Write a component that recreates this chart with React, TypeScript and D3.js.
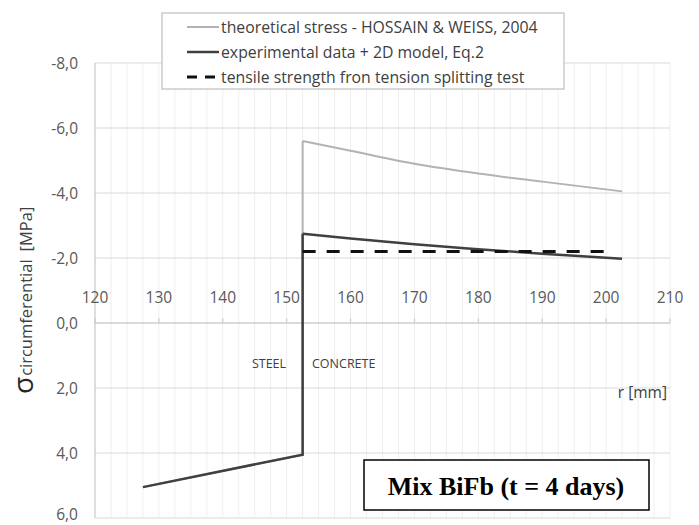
import { useEffect, useRef } from "react";
import * as d3 from "d3";

// radius [mm] and circumferential stress [MPa]
const rTheo = [127.5, 152.5, 152.5, 160, 170, 180, 190, 202.5];
const sTheo = [5.05, 4.05, -5.6, -5.3, -4.9, -4.6, -4.35, -4.05];
const rExp = [127.5, 152.5, 152.5, 160, 170, 180, 190, 202.5];
const sExp = [5.05, 4.05, -2.75, -2.6, -2.42, -2.27, -2.13, -1.98];
const rTen = [152.5, 200.5];
const sTen = [-2.2, -2.2];

const xTicks = [120, 130, 140, 150, 160, 170, 180, 190, 200, 210];
const yTicks = [-8, -6, -4, -2, 0, 2, 4, 6];

const legendItems = [
  { label: "theoretical stress - HOSSAIN & WEISS, 2004", color: "#b3b3b3", width: 2, dash: "" },
  { label: "experimental data + 2D model, Eq.2", color: "#404040", width: 2.5, dash: "" },
  { label: "tensile strength fron tension splitting test", color: "#111", width: 3, dash: "13,11" },
];

const font = "'Open Sans', 'Liberation Sans', sans-serif";

export default function App() {
  const svgRef = useRef<SVGSVGElement>(null);

  useEffect(() => {
    const width = 699;
    const height = 525;
    const svg = d3.select(svgRef.current).attr("width", width).attr("height", height);
    svg.selectAll("*").remove();

    const x = d3.scaleLinear().domain([120, 210]).range([95, 670]);
    const y = d3.scaleLinear().domain([-8, 6]).range([63, 518]);

    svg.append("rect").attr("width", width).attr("height", height).attr("fill", "#fff");

    // minor vertical grid
    svg
      .append("g")
      .selectAll("line")
      .data(d3.range(122.5, 210.1, 2.5))
      .enter()
      .append("line")
      .attr("x1", (d) => x(d))
      .attr("x2", (d) => x(d))
      .attr("y1", y(-8))
      .attr("y2", y(6))
      .attr("stroke", "#efefef")
      .attr("stroke-width", 1);

    // horizontal grid
    svg
      .append("g")
      .selectAll("line")
      .data(yTicks)
      .enter()
      .append("line")
      .attr("x1", x(120))
      .attr("x2", x(210))
      .attr("y1", (d) => y(d))
      .attr("y2", (d) => y(d))
      .attr("stroke", "#d9d9d9")
      .attr("stroke-width", 1.2);

    // vertical axis
    svg
      .append("line")
      .attr("x1", x(120))
      .attr("x2", x(120))
      .attr("y1", y(-8))
      .attr("y2", y(6))
      .attr("stroke", "#c8c8c8")
      .attr("stroke-width", 1.2);

    // horizontal axis at 0 with ticks
    svg
      .append("line")
      .attr("x1", x(120))
      .attr("x2", x(210))
      .attr("y1", y(0))
      .attr("y2", y(0))
      .attr("stroke", "#c8c8c8")
      .attr("stroke-width", 1.2);
    svg
      .append("g")
      .selectAll("line")
      .data(xTicks)
      .enter()
      .append("line")
      .attr("x1", (d) => x(d))
      .attr("x2", (d) => x(d))
      .attr("y1", y(0))
      .attr("y2", y(0) - 5)
      .attr("stroke", "#c8c8c8");

    // tick labels
    svg
      .append("g")
      .selectAll("text")
      .data(xTicks)
      .enter()
      .append("text")
      .attr("x", (d) => x(d))
      .attr("y", y(0) - 20)
      .attr("text-anchor", "middle")
      .attr("font-family", font)
      .attr("font-size", 15.5)
      .attr("fill", "#595959")
      .text((d) => d);

    svg
      .append("g")
      .selectAll("text")
      .data(yTicks)
      .enter()
      .append("text")
      .attr("x", 78)
      .attr("y", (d) => Math.min(y(d) + 5.5, 520))
      .attr("text-anchor", "end")
      .attr("font-family", font)
      .attr("font-size", 15.5)
      .attr("fill", "#595959")
      .text((d) => d3.format(".1f")(d).replace(".", ",").replace("−", "-"));

    // y axis title
    const title = svg
      .append("text")
      .attr("transform", "translate(33,394) rotate(-90)")
      .attr("font-family", font)
      .attr("fill", "#404040");
    title.append("tspan").attr("font-size", 28).attr("fill", "#262626").text("σ");
    title.append("tspan").attr("font-size", 16.5).attr("dy", -1).attr("dx", 1).text("circumferential");
    title.append("tspan").attr("font-size", 16.5).attr("dx", 8).text("[MPa]");

    // series
    const line = d3
      .line<[number, number]>()
      .x((d) => x(d[0]))
      .y((d) => y(d[1]));
    const curve = d3
      .line<[number, number]>()
      .x((d) => x(d[0]))
      .y((d) => y(d[1]))
      .curve(d3.curveMonotoneX);

    const series = [
      { r: rTheo, s: sTheo, ...legendItems[0] },
      { r: rExp, s: sExp, ...legendItems[1] },
    ];
    series.forEach((sr) => {
      const pts = sr.r.map((r, i) => [r, sr.s[i]] as [number, number]);
      [line(pts.slice(0, 3)), curve(pts.slice(2))].forEach((d) => {
        svg
          .append("path")
          .attr("d", d)
          .attr("fill", "none")
          .attr("stroke", sr.color)
          .attr("stroke-width", sr.width)
          .attr("stroke-linejoin", "miter");
      });
    });
    svg
      .append("path")
      .attr("d", line(rTen.map((r, i) => [r, sTen[i]] as [number, number])))
      .attr("fill", "none")
      .attr("stroke", legendItems[2].color)
      .attr("stroke-width", legendItems[2].width)
      .attr("stroke-dasharray", legendItems[2].dash);

    // annotations
    svg
      .append("text")
      .attr("x", 269)
      .attr("y", 368)
      .attr("text-anchor", "middle")
      .attr("font-family", font)
      .attr("font-size", 12.5)
      .attr("fill", "#404040")
      .text("STEEL");
    svg
      .append("text")
      .attr("x", 312)
      .attr("y", 368)
      .attr("font-family", font)
      .attr("font-size", 12.5)
      .attr("fill", "#404040")
      .text("CONCRETE");
    svg
      .append("text")
      .attr("x", 667)
      .attr("y", 398)
      .attr("text-anchor", "end")
      .attr("font-family", font)
      .attr("font-size", 15.5)
      .attr("fill", "#404040")
      .text("r [mm]");

    // legend
    const lg = svg.append("g");
    lg.append("rect")
      .attr("x", 162)
      .attr("y", 13)
      .attr("width", 402)
      .attr("height", 76)
      .attr("fill", "#fff")
      .attr("stroke", "#bfbfbf")
      .attr("stroke-width", 1.2);
    legendItems.forEach((it, i) => {
      const cy = 27 + i * 25;
      lg.append("line")
        .attr("x1", 187)
        .attr("x2", 219)
        .attr("y1", cy)
        .attr("y2", cy)
        .attr("stroke", it.color)
        .attr("stroke-width", it.width)
        .attr("stroke-dasharray", it.dash ? "10,8" : null);
      lg.append("text")
        .attr("x", 221)
        .attr("y", cy + 5.5)
        .attr("font-family", font)
        .attr("font-size", 15.8)
        .attr("fill", "#404040")
        .text(it.label);
    });

    // mix box
    svg
      .append("rect")
      .attr("x", 364)
      .attr("y", 460)
      .attr("width", 285)
      .attr("height", 50)
      .attr("fill", "#fff")
      .attr("stroke", "#000")
      .attr("stroke-width", 1.5);
    svg
      .append("text")
      .attr("x", 506)
      .attr("y", 495)
      .attr("text-anchor", "middle")
      .attr("font-family", "'Liberation Serif', 'Times New Roman', serif")
      .attr("font-weight", "bold")
      .attr("font-size", 26)
      .attr("fill", "#000")
      .text("Mix BiFb (t = 4 days)");
  }, []);

  return (
    <div style={{ position: "absolute", left: 0, top: 0 }}>
      <svg ref={svgRef}></svg>
    </div>
  );
}
